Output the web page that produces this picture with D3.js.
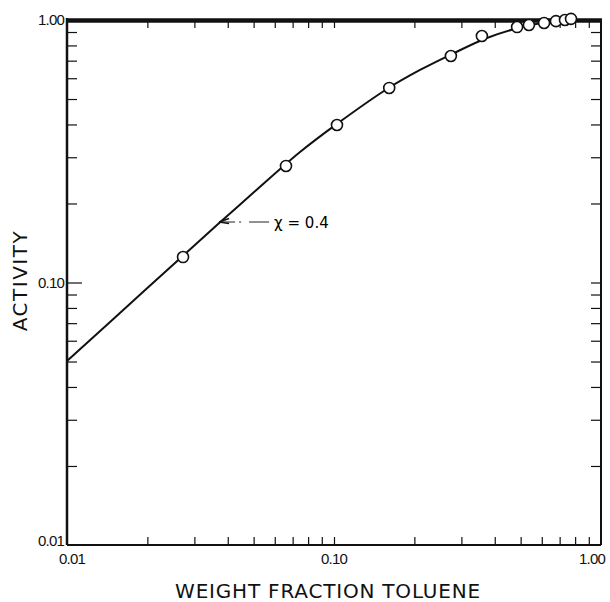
<!DOCTYPE html>
<html>
  <head>
    <meta charset="utf-8">
    <title>Activity vs weight fraction toluene</title>
    <script src="https://d3js.org/d3.v7.min.js"></script>
    <style type="text/css">
      body { margin: 0; background: #fff; }
      .ticklabel { font-family: "Liberation Sans", sans-serif; font-size: 15px; letter-spacing: -0.8px; fill: #111; }
      .title { font-family: "DejaVu Sans", sans-serif; font-size: 20px; fill: #111; }
      .axis path { display: none; }
      .axis line { stroke: #111; stroke-width: 1.2; }
    </style>
  </head>
  <body>
    <script>
      // measured points (open circles)
      var pointX = [0.0272, 0.0661, 0.1026, 0.161, 0.274, 0.358, 0.485, 0.537, 0.612, 0.678, 0.733, 0.772];
      var pointY = [0.125, 0.278, 0.398, 0.551, 0.729, 0.869, 0.940, 0.957, 0.974, 0.990, 1.000, 1.010];

      // theoretical curve, chi = 0.4
      var curveX = [0.01, 0.0199, 0.0368, 0.0502, 0.0746, 0.1026, 0.158, 0.210, 0.279, 0.374, 0.497, 0.617, 0.766, 1.0];
      var curveY = [0.0502, 0.0948, 0.167, 0.221, 0.314, 0.402, 0.546, 0.645, 0.745, 0.854, 0.936, 0.978, 0.998, 1.0];

      var majorTicks = [0.01, 0.1, 1];
      var tickLabels = ["0.01", "0.10", "1.00"];
      var minorTicks = [0.02, 0.03, 0.04, 0.05, 0.06, 0.07, 0.08, 0.09,
                        0.2, 0.3, 0.4, 0.5, 0.6, 0.7, 0.8, 0.9];

      var margin = {top: 20, right: 9, bottom: 57, left: 67};
      var width = 610 - margin.left - margin.right;
      var height = 602 - margin.top - margin.bottom;

      var x = d3.scaleLog().domain([0.01, 1]).range([0, width]);
      var y = d3.scaleLog().domain([0.01, 1]).range([height, 0]);

      var svg = d3.select("body").append("svg")
          .attr("width", 610)
          .attr("height", 602)
        .append("g")
          .attr("transform", "translate(" + margin.left + "," + margin.top + ")");

      // inside ticks on all four sides
      svg.append("g").attr("class", "axis")
          .attr("transform", "translate(0," + height + ")")
          .call(d3.axisBottom(x).tickValues(minorTicks.concat([0.1])).tickSize(-8).tickFormat(""));
      svg.append("g").attr("class", "axis")
          .call(d3.axisTop(x).tickValues(minorTicks.concat([0.1])).tickSize(-8).tickFormat(""));
      svg.append("g").attr("class", "axis")
          .call(d3.axisLeft(y).tickValues(minorTicks).tickSize(-10).tickFormat(""));
      svg.append("g").attr("class", "axis")
          .call(d3.axisLeft(y).tickValues([0.1]).tickSize(-15).tickFormat(""));
      svg.append("g").attr("class", "axis")
          .attr("transform", "translate(" + width + ",0)")
          .call(d3.axisRight(y).tickValues(minorTicks.concat([0.1])).tickSize(-10).tickFormat(""));

      // frame
      svg.append("line").attr("x1", 0).attr("x2", 0).attr("y1", -2).attr("y2", height)
          .attr("stroke", "#111").attr("stroke-width", 2.5);
      svg.append("line").attr("x1", 0).attr("x2", width).attr("y1", height).attr("y2", height)
          .attr("stroke", "#111").attr("stroke-width", 2);
      svg.append("line").attr("x1", width).attr("x2", width).attr("y1", 0).attr("y2", height)
          .attr("stroke", "#111").attr("stroke-width", 2);
      // heavy line at activity = 1
      svg.append("line").attr("x1", -1).attr("x2", width + 1).attr("y1", y(1) + 0.5).attr("y2", y(1) + 0.5)
          .attr("stroke", "#111").attr("stroke-width", 4.5);

      // tick labels
      svg.selectAll(".ylab").data(majorTicks).enter().append("text")
          .attr("class", "ticklabel")
          .attr("x", -3)
          .attr("y", function(d, i) { return y(d) + (i == 0 ? -4 : 0); })
          .attr("dy", "0.35em")
          .attr("text-anchor", "end")
          .text(function(d, i) { return tickLabels[i]; });
      svg.selectAll(".xlab").data(majorTicks).enter().append("text")
          .attr("class", "ticklabel")
          .attr("x", function(d, i) { return x(d) + [5, 0, -9][i]; })
          .attr("y", height + 19)
          .attr("text-anchor", "middle")
          .text(function(d, i) { return tickLabels[i]; });

      // curve
      var line = d3.line()
          .x(function(d) { return x(d[0]); })
          .y(function(d) { return y(d[1]); })
          .curve(d3.curveCatmullRom.alpha(0.5));
      svg.append("path")
          .datum(d3.zip(curveX, curveY))
          .attr("d", line)
          .attr("fill", "none")
          .attr("stroke", "#111")
          .attr("stroke-width", 2);

      // data points
      svg.selectAll("circle").data(d3.zip(pointX, pointY)).enter().append("circle")
          .attr("cx", function(d) { return x(d[0]); })
          .attr("cy", function(d) { return y(d[1]); })
          .attr("r", 5.5)
          .attr("fill", "#fff")
          .attr("stroke", "#111")
          .attr("stroke-width", 1.6);

      // chi label with leader
      var ax = x(0.0368) + 1, ay = y(0.170);
      svg.append("line")
          .attr("x1", ax + 4).attr("x2", ax + 53).attr("y1", ay).attr("y2", ay)
          .attr("stroke", "#222").attr("stroke-width", 1)
          .attr("stroke-dasharray", "12,4,2,8,20");
      svg.append("path")
          .attr("d", "M" + (ax + 10) + "," + (ay - 3.5) + "L" + ax + "," + ay + "L" + (ax + 10) + "," + (ay + 1.5))
          .attr("fill", "none").attr("stroke", "#111").attr("stroke-width", 1.4);
      svg.append("text")
          .attr("x", ax + 55).attr("y", ay + 6)
          .style("font-family", "DejaVu Sans, sans-serif").style("font-size", "15px")
          .text("\u03c7 = 0.4");

      // axis titles
      svg.append("text")
          .attr("class", "title")
          .attr("x", width / 2 - 6)
          .attr("y", height + 53)
          .attr("text-anchor", "middle")
          .style("letter-spacing", "0.8px")
          .text("WEIGHT FRACTION TOLUENE");
      svg.append("text")
          .attr("class", "title")
          .attr("transform", "translate(-40," + (height / 2 - 2) + ") rotate(-90)")
          .attr("text-anchor", "middle")
          .style("letter-spacing", "1.5px")
          .text("ACTIVITY");
    </script>
  </body>
</html>
